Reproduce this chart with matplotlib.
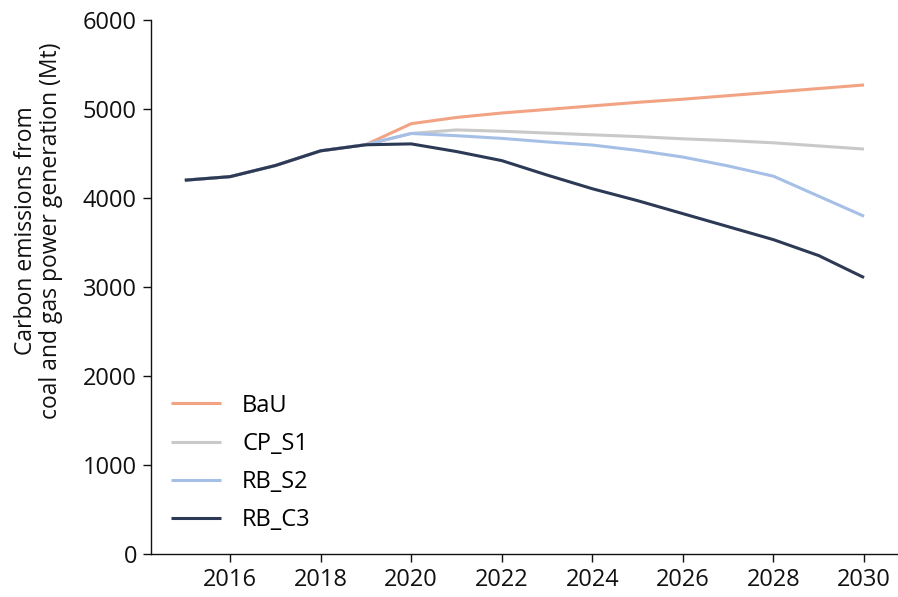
import matplotlib
matplotlib.use("Agg")
import matplotlib.pyplot as plt

plt.rcParams['font.family'] = ['Open Sans', 'DejaVu Sans']

years = list(range(2015, 2031))

bau = [4200, 4240, 4365, 4530, 4600, 4835, 4905, 4955, 4995, 5035, 5075, 5110, 5150, 5190, 5230, 5270]
cp_s1 = [4200, 4240, 4365, 4530, 4600, 4725, 4765, 4750, 4730, 4710, 4690, 4665, 4645, 4620, 4585, 4550]
rb_s2 = [4200, 4240, 4365, 4530, 4600, 4725, 4700, 4670, 4630, 4595, 4535, 4460, 4360, 4245, 4020, 3795]
rb_c3 = [4200, 4240, 4365, 4530, 4598, 4608, 4522, 4420, 4258, 4104, 3970, 3824, 3678, 3532, 3353, 3106]

series = [
    ("BaU", bau, "#F2A383"),
    ("CP_S1", cp_s1, "#C9C9C9"),
    ("RB_S2", rb_s2, "#A6BFE6"),
    ("RB_C3", rb_c3, "#2D3A55"),
]

fig = plt.figure(figsize=(8.98, 5.97), dpi=100)
ax = fig.add_axes([0.168, 0.072, 0.832, 0.8945])

# the darkest scenario is drawn last so it sits on top where paths overlap
for name, vals, col in series:
    ax.plot(years, vals, color=col, lw=2.2, label=name, solid_capstyle='butt')

ax.set_xlim(2014.25, 2030.75)
ax.set_ylim(0, 6000)
ax.set_xticks(range(2016, 2031, 2))
ax.set_yticks(range(0, 6001, 1000))

for s in ("top", "right"):
    ax.spines[s].set_visible(False)
for s in ("left", "bottom"):
    ax.spines[s].set_linewidth(1.0)
    ax.spines[s].set_color("#111111")

ax.tick_params(axis="both", direction="out", length=6, width=1.0,
               labelsize=17, colors="#111111", pad=4)

ax.set_ylabel("Carbon emissions from\ncoal and gas power generation (Mt)",
              fontsize=16.5, color="#111111", linespacing=1.1)
ax.yaxis.set_label_coords(-0.117, 0.605)

ax.legend(loc="lower left", bbox_to_anchor=(-0.001, 0.001), frameon=False,
          fontsize=17, handlelength=2.1, handletextpad=0.9, labelspacing=0.6)

fig.savefig("out.png", dpi=100)
